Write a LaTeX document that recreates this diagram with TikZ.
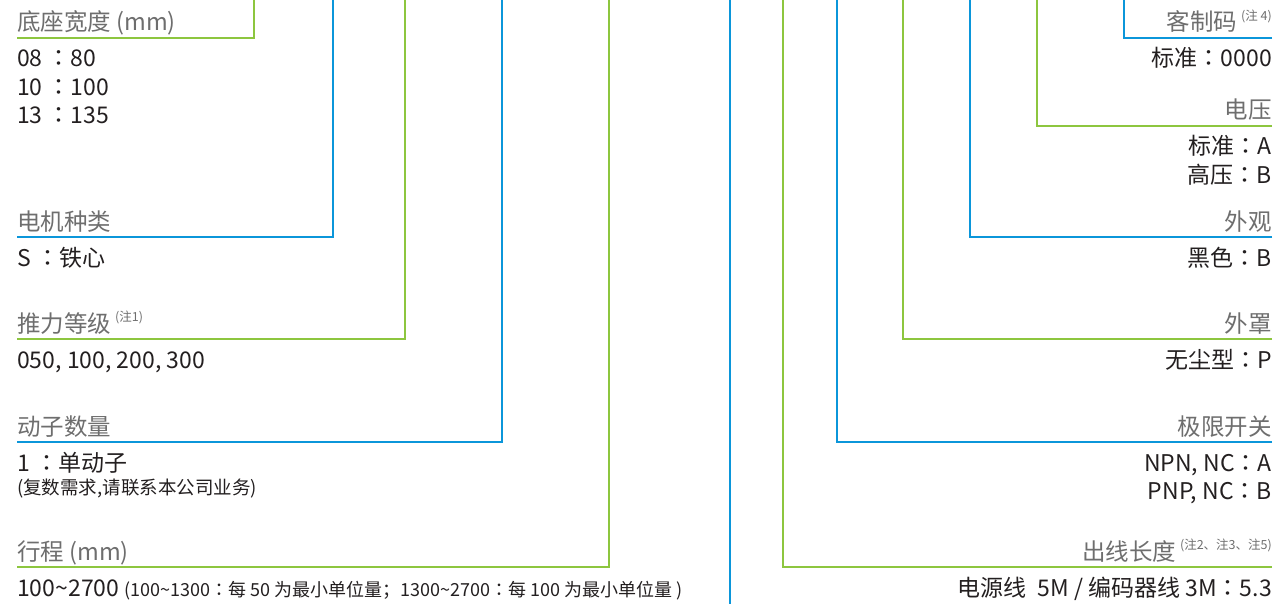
\documentclass[tikz,border=0pt]{standalone}
\usepackage{fontspec}
\setmainfont{Noto Sans CJK SC}
\newfontfamily\jpfont{Noto Sans CJK JP}
\definecolor{lgreen}{HTML}{8DC63F}
\definecolor{lblue}{HTML}{0B96DA}
\definecolor{labelgray}{HTML}{6E6E6E}
\definecolor{valtext}{HTML}{231F20}
\newcommand{\note}[1]{\,\raisebox{10.5pt}{\fontsize{12.5}{12.5}\selectfont #1}}
\newcommand{\cln}{{\jpfont ：}}
\tikzset{
  lbl/.style={text=labelgray, font=\fontsize{23.5}{26}\selectfont, inner sep=0pt},
  val/.style={text=valtext, font=\fontsize{23}{26}\selectfont, inner sep=0pt},
  small/.style={text=valtext, font=\fontsize{18.5}{20}\selectfont, inner sep=0pt},
  gline/.style={draw=lgreen, line width=2.7pt},
  bline/.style={draw=lblue, line width=2.7pt},
}
\begin{document}
\begin{tikzpicture}[x=1pt,y=-1pt]
\useasboundingbox (0,0) rectangle (1277,604);
% ---------------- left side ----------------
\node[lbl, anchor=base west] (L1) at (17,31) {底座宽度 (mm)};
\node[val, anchor=base west] (V1a) at (17,67) {08 \cln 80};
\node[val, anchor=base west] (V1b) at (17,95.5) {10 \cln 100};
\node[val, anchor=base west] (V1c) at (17,124) {13 \cln 135};

\node[lbl, anchor=base west] (L2) at (17,230) {电机种类};
\node[val, anchor=base west] (V2a) at (17,266) {S \cln 铁心};

\node[lbl, anchor=base west] (L3) at (17,332) {推力等级\note{(注1)}};
\node[val, anchor=base west] (V3a) at (17,368) {050, 100, 200, 300};

\node[lbl, anchor=base west] (L4) at (17,435) {动子数量};
\node[val, anchor=base west] (V4a) at (17,471) {1 \cln 单动子};
\node[small, anchor=base west] (V4b) at (17,494) {(复数需求,请联系本公司业务)};

\node[lbl, anchor=base west] (L5) at (17,560) {行程 (mm)};
\node[val, anchor=base west] (V5a) at (17,596) {100\textasciitilde 2700 {\fontsize{18}{20}\selectfont (100\textasciitilde 1300\cln 每 50 为最小单位量；1300\textasciitilde 2700\cln 每 100 为最小单位量 )}};

\coordinate (S1) at (17,38);   \coordinate (T1) at (254,0);
\coordinate (S2) at (17,237);  \coordinate (T2) at (333,0);
\coordinate (S3) at (17,339);  \coordinate (T3) at (405,0);
\coordinate (S4) at (17,442);  \coordinate (T4) at (502,0);
\coordinate (S5) at (17,567);  \coordinate (T5) at (609,0);
\draw[gline] (S1) -| (T1);
\draw[bline] (S2) -| (T2);
\draw[gline] (S3) -| (T3);
\draw[bline] (S4) -| (T4);
\draw[gline] (S5) -| (T5);

% centre line
\coordinate (C0) at (730,0);
\coordinate (C1) at (730,604);
\draw[bline] (C0) -- (C1);

% ---------------- right side ----------------
\node[lbl, anchor=base east] (R1) at (1272,31) {客制码\note{(注 4)}};
\node[val, anchor=base east] (W1a) at (1272,67) {标准\cln 0000};

\node[lbl, anchor=base east] (R2) at (1272,119) {电压};
\node[val, anchor=base east] (W2a) at (1272,155) {标准\cln A};
\node[val, anchor=base east] (W2b) at (1272,183.5) {高压\cln B};

\node[lbl, anchor=base east] (R3) at (1272,230) {外观};
\node[val, anchor=base east] (W3a) at (1272,266) {黑色\cln B};

\node[lbl, anchor=base east] (R4) at (1272,332) {外罩};
\node[val, anchor=base east] (W4a) at (1272,368) {无尘型\cln P};

\node[lbl, anchor=base east] (R5) at (1272,435) {极限开关};
\node[val, anchor=base east] (W5a) at (1272,471) {NPN, NC\cln A};
\node[val, anchor=base east] (W5b) at (1272,499.5) {PNP, NC\cln B};

\node[lbl, anchor=base east] (R6) at (1272,560) {出线长度\note{(注2、注3、注5)}};
\node[val, anchor=base east] (W6a) at (1272,596) {电源线\enspace 5M / 编码器线 3M\cln 5.3};

\coordinate (E1) at (1272,38);   \coordinate (U1) at (1124,0);
\coordinate (E2) at (1272,126);  \coordinate (U2) at (1037,0);
\coordinate (E3) at (1272,237);  \coordinate (U3) at (970,0);
\coordinate (E4) at (1272,339);  \coordinate (U4) at (903,0);
\coordinate (E5) at (1272,442);  \coordinate (U5) at (837,0);
\coordinate (E6) at (1272,567);  \coordinate (U6) at (783,0);
\draw[bline] (E1) -| (U1);
\draw[gline] (E2) -| (U2);
\draw[bline] (E3) -| (U3);
\draw[gline] (E4) -| (U4);
\draw[bline] (E5) -| (U5);
\draw[gline] (E6) -| (U6);
\end{tikzpicture}
\end{document}
